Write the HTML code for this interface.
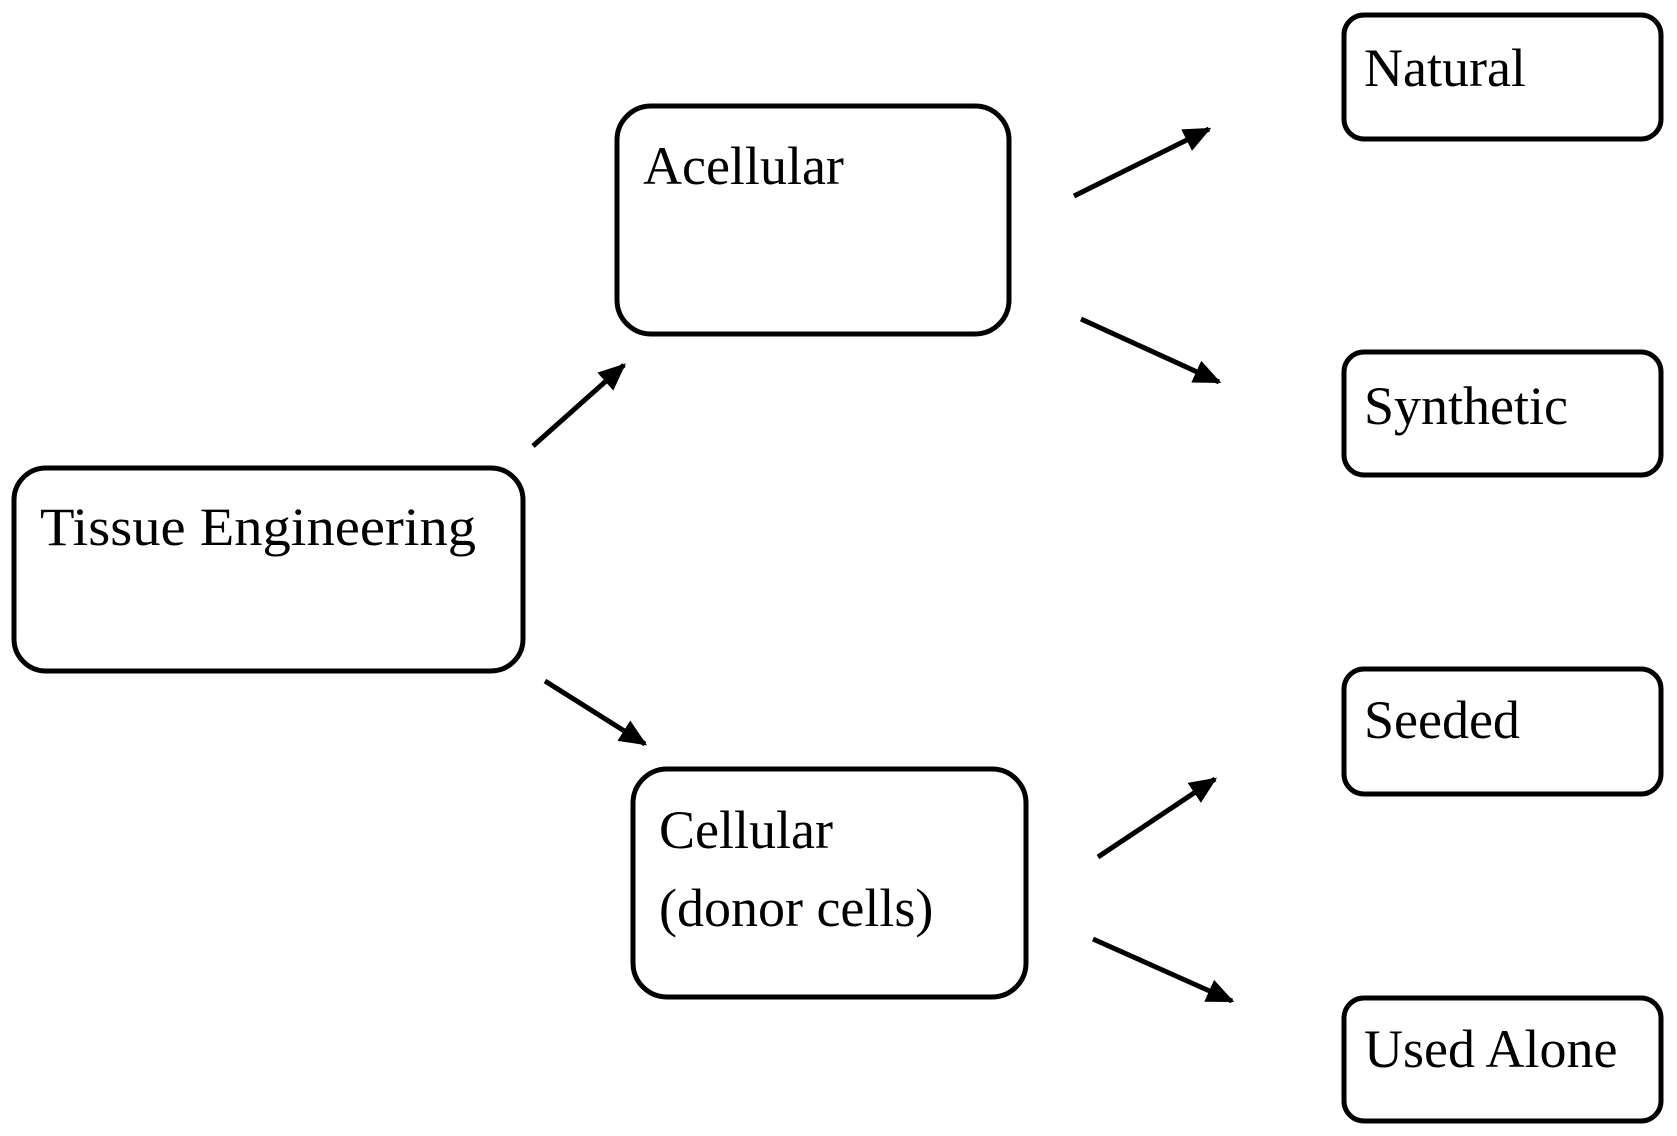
<!DOCTYPE html>
<html><head><style>
html,body{margin:0;padding:0;background:#fff;}
svg{display:block;}
text{font-family:"Liberation Serif",serif;fill:#000;font-size:54px;}
</style></head><body>
<svg width="1677" height="1136" viewBox="0 0 1677 1136" xmlns="http://www.w3.org/2000/svg">
<defs>
<marker id="a" markerWidth="6" markerHeight="6" refX="5" refY="3" orient="auto" markerUnits="strokeWidth">
<path d="M0,0.6 L5.5,3 L0,5.4 z" fill="#000"/>
</marker>
</defs>
<g fill="none" stroke="#000" stroke-width="5">
<rect x="14" y="468" width="509" height="203" rx="32"/>
<rect x="617" y="106" width="392" height="228" rx="34"/>
<rect x="633" y="769" width="393" height="228" rx="34"/>
<rect x="1344" y="15" width="317" height="124" rx="20"/>
<rect x="1344" y="352" width="317" height="123" rx="20"/>
<rect x="1344" y="669" width="317" height="125" rx="20"/>
<rect x="1344" y="998" width="317" height="123" rx="20"/>
</g>
<g stroke="#000" stroke-width="5" marker-end="url(#a)">
<line x1="533" y1="446" x2="624" y2="365"/>
<line x1="545" y1="681" x2="645" y2="744"/>
<line x1="1074" y1="196" x2="1209" y2="129"/>
<line x1="1081" y1="319" x2="1219" y2="382"/>
<line x1="1098" y1="857" x2="1215" y2="779"/>
<line x1="1093" y1="939" x2="1232" y2="1001"/>
</g>
<text x="40" y="545" textLength="436" lengthAdjust="spacingAndGlyphs">Tissue Engineering</text>
<text x="643" y="184">Acellular</text>
<text x="659" y="848">Cellular</text>
<text x="659" y="926">(donor cells)</text>
<text x="1364" y="86">Natural</text>
<text x="1364" y="424">Synthetic</text>
<text x="1364" y="738">Seeded</text>
<text x="1364" y="1067">Used Alone</text>
</svg>
</body></html>
